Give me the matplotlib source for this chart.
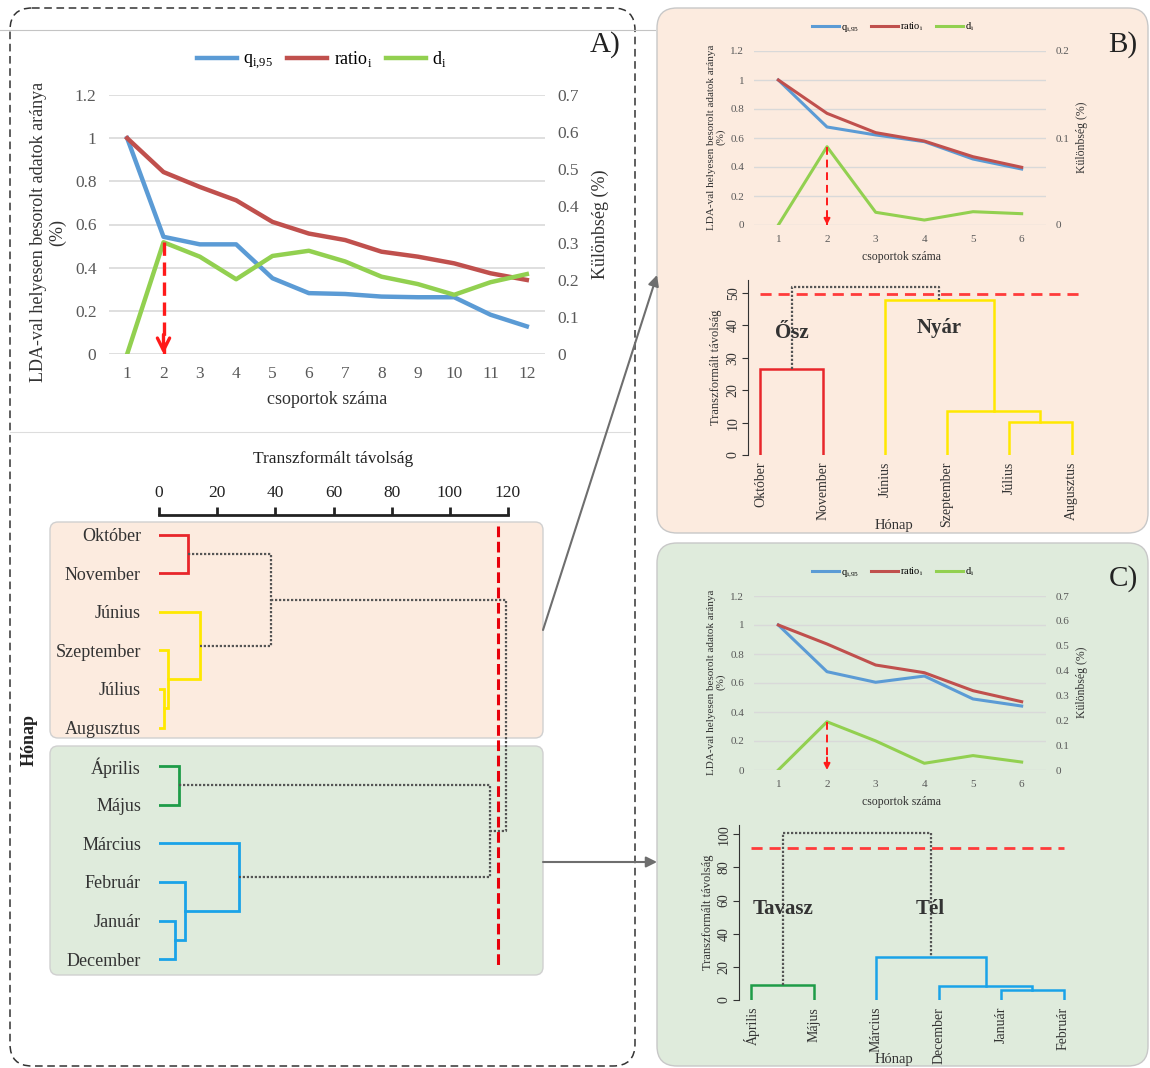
import matplotlib
matplotlib.use('Agg')
import matplotlib.pyplot as plt
from matplotlib.patches import FancyBboxPatch

plt.rcParams['font.family'] = ['Liberation Serif', 'DejaVu Serif']

W, H = 1150, 1068

# number of groups vs. classification ratios (panel A: all months)
groups_a = [1, 2, 3, 4, 5, 6, 7, 8, 9, 10, 11, 12]
q_a = [1.0, 0.543, 0.508, 0.508, 0.351, 0.282, 0.278, 0.266, 0.263, 0.263, 0.182, 0.128]
ratio_a = [1.0, 0.843, 0.774, 0.712, 0.612, 0.558, 0.528, 0.474, 0.451, 0.420, 0.374, 0.343]
d_a = [0.0, 0.302, 0.263, 0.202, 0.265, 0.279, 0.250, 0.209, 0.189, 0.160, 0.194, 0.216]

# panel B: summer/autumn months
groups_b = [1, 2, 3, 4, 5, 6]
q_b = [1.0, 0.676, 0.621, 0.575, 0.455, 0.386]
ratio_b = [1.0, 0.770, 0.637, 0.579, 0.471, 0.398]
d_b = [0.0, 0.090, 0.0146, 0.0057, 0.0153, 0.013]

# panel C: winter/spring months
groups_c = [1, 2, 3, 4, 5, 6]
q_c = [1.0, 0.678, 0.605, 0.648, 0.490, 0.441]
ratio_c = [1.0, 0.869, 0.724, 0.671, 0.547, 0.471]
d_c = [0.0, 0.194, 0.117, 0.027, 0.058, 0.032]

left_ticks = [0, 0.2, 0.4, 0.6, 0.8, 1.0, 1.2]
right_ticks_a = [0, 0.1, 0.2, 0.3, 0.4, 0.5, 0.6, 0.7]
right_ticks_b = [0, 0.1, 0.2]
right_ticks_c = [0, 0.1, 0.2, 0.3, 0.4, 0.5, 0.6, 0.7]

# dendrograms: leaves in plotting order, merges as (node, node, height, cluster)
months_a = ['Október', 'November', 'Június', 'Szeptember', 'Július', 'Augusztus',
            'Április', 'Május', 'Március', 'Február', 'Január', 'December']
links_a = [(0, 1, 10.1, 'osz'), (4, 5, 1.8, 'nyar'), (3, 13, 3.2, 'nyar'),
           (2, 14, 14.1, 'nyar'), (12, 15, 38.6, 'link'), (6, 7, 7.0, 'tavasz'),
           (10, 11, 5.6, 'tel'), (9, 18, 8.9, 'tel'), (8, 19, 27.5, 'tel'),
           (17, 20, 113.8, 'link'), (16, 21, 119.3, 'link')]
cut_a = 116.6

months_b = ['Október', 'November', 'Június', 'Szeptember', 'Július', 'Augusztus']
links_b = [(0, 1, 26.4, 'osz'), (4, 5, 10.3, 'nyar'), (3, 7, 13.7, 'nyar'),
           (2, 8, 47.9, 'nyar'), (6, 9, 51.9, 'link')]
cut_b = 49.6

months_c = ['Április', 'Május', 'Március', 'December', 'Január', 'Február']
links_c = [(0, 1, 9.3, 'tavasz'), (4, 5, 5.8, 'tel'), (3, 7, 8.5, 'tel'),
           (2, 8, 26.0, 'tel'), (6, 9, 101.0, 'link')]
cut_c = 92.0

BLUE, RED, GREEN = '#5b9bd5', '#c0504d', '#92d050'
cluster_colors = {'osz': '#e8262b', 'nyar': '#ffe800', 'tavasz': '#1e9c48', 'tel': '#1aa3e8'}
PEACH, MINT = '#fcebdf', '#dfebdc'

fig = plt.figure(figsize=(W / 100, H / 100), dpi=100)

# full-figure pixel canvas for boxes, connectors and free text
bg = fig.add_axes([0, 0, 1, 1])
bg.set_xlim(0, W)
bg.set_ylim(H, 0)
bg.axis('off')


def px_axes(x0, y0, x1, y1):
    ax = fig.add_axes([x0 / W, 1 - y1 / H, (x1 - x0) / W, (y1 - y0) / H])
    ax.set_facecolor('none')
    return ax


def box(x, y, w, h, fc, ec, r, **kw):
    bg.add_patch(FancyBboxPatch((x, y), w, h, boxstyle=f'round,pad=0,rounding_size={r}',
                                fc=fc, ec=ec, **kw))


box(10, 8, 625, 1058, 'none', '#333333', 22, lw=1.1, ls=(0, (5, 3)))
box(657, 8, 491, 525, PEACH, '#c8c8c8', 20, lw=1)
box(657, 543, 491, 523, MINT, '#c8c8c8', 20, lw=1)
box(50, 522, 493, 216, PEACH, '#d0d0d0', 8, lw=1)
box(50, 746, 493, 229, MINT, '#d0d0d0', 8, lw=1)
bg.plot([0, 655], [30, 30], color='#c4c4c4', lw=0.8)
bg.plot([10, 630], [432, 432], color='#dddddd', lw=0.8)

arrow_kw = dict(arrowstyle='-|>', color='#6e6e6e', lw=1.5, mutation_scale=16, shrinkA=0, shrinkB=0)
bg.annotate('', xy=(657, 275), xytext=(543, 630), arrowprops=arrow_kw)
bg.annotate('', xy=(657, 862), xytext=(543, 862), arrowprops=arrow_kw)

for label, x, y in [('A)', 605, 45), ('B)', 1123, 45), ('C)', 1123, 579)]:
    bg.text(x, y, label, fontsize=21, ha='center', va='center', color='#222222')


def line_panel(rect, groups, q, ratio, d, right_ticks, fs, lw, pad, big):
    ax = px_axes(*rect)
    ax.plot(groups, q, color=BLUE, lw=lw, label=r'q$_\mathregular{i{,}95}$')
    ax.plot(groups, ratio, color=RED, lw=lw, label=r'ratio$_\mathregular{i}$')
    ax2 = ax.twinx()
    ax2.set_facecolor('none')
    ax2.plot(groups, d, color=GREEN, lw=lw, label=r'd$_\mathregular{i}$')
    ax.set_xlim(0.5, len(groups) + 0.5)
    ax.set_ylim(0, left_ticks[-1])
    ax2.set_ylim(0, right_ticks[-1])
    ax.set_xticks(groups)
    ax.set_yticks(left_ticks)
    ax.set_yticklabels([f'{t:g}' for t in left_ticks])
    ax2.set_yticks(right_ticks)
    ax2.set_yticklabels([f'{t:g}' for t in right_ticks])
    ax.grid(axis='y', color='#d9d9d9', lw=1.2 if big else 1.0)
    ax.set_axisbelow(True)
    for a in (ax, ax2):
        for s in a.spines.values():
            s.set_visible(False)
        a.tick_params(length=0, labelsize=fs, colors='#595959', pad=pad)
    # red arrow marking the chosen number of groups
    dash_lw = 2.4 if big else 1.4
    ax2.plot([groups[1], groups[1]], [d[1], 0], color='#ff1a1a', lw=dash_lw,
             ls=(0, (4, 2)) if big else (0, (4, 2.5)))
    ax2.annotate('', xy=(groups[1], 0), xytext=(0, 14 if big else 9), textcoords='offset points',
                 arrowprops=dict(arrowstyle='->' if big else '-|>', color='#ff1a1a', lw=dash_lw,
                                 mutation_scale=22 if big else 9, shrinkA=0, shrinkB=0))
    handles = ax.get_lines()[:2] + ax2.get_lines()[:1]
    return ax, ax2, handles


# panel A line chart
ax, ax2, hs = line_panel((109, 95, 545, 354), groups_a, q_a, ratio_a, d_a, right_ticks_a,
                         12.5, 3.2, 9, True)
ax.legend(hs, [h.get_label() for h in hs], loc='center', bbox_to_anchor=(322 / W, 1 - 60 / H),
          bbox_transform=fig.transFigure, ncol=3, frameon=False, fontsize=13,
          handlelength=2.2, handletextpad=0.35, columnspacing=0.8)
bg.text(48, 232, 'LDA-val helyesen besorolt adatok aránya\n(%)', rotation=90, ha='center',
        va='center', fontsize=13, color='#333333', multialignment='center', linespacing=1.15)
bg.text(600, 224, 'Különbség (%)', rotation=90, ha='center', va='center', fontsize=13, color='#333333')
bg.text(327, 400, 'csoportok száma', ha='center', va='center', fontsize=13, color='#333333')

# panels B and C line charts
for rect, q, ratio, d, rt, dy in [((754, 51, 1046, 225), q_b, ratio_b, d_b, right_ticks_b, 0),
                                  ((754, 596, 1046, 770), q_c, ratio_c, d_c, right_ticks_c, 545)]:
    ax, ax2, hs = line_panel(rect, groups_b, q, ratio, d, rt, 8, 2.2, 7, False)
    ax.legend(hs, [h.get_label() for h in hs], loc='center', bbox_to_anchor=(893 / W, 1 - (27 + dy) / H),
              bbox_transform=fig.transFigure, ncol=3, frameon=False, fontsize=7.5,
              handlelength=2.6, handletextpad=0.2, columnspacing=1.2)
    bg.text(716, 137 + dy, 'LDA-val helyesen besorolt adatok aránya\n(%)', rotation=90, ha='center',
            va='center', fontsize=8, color='#333333', multialignment='center', linespacing=0.95)
    bg.text(1082, 137 + dy, 'Különbség (%)', rotation=90, ha='center', va='center', fontsize=8.5,
            color='#333333')
    bg.text(901, 257 + dy, 'csoportok száma', ha='center', va='center', fontsize=8.5, color='#333333')


def dendrogram(ax, links, n, start, horizontal=False, lw=1.8):
    pos = [start + i for i in range(n)]
    hgt = [0.0] * n
    for a, b, h, kind in links:
        xs = [pos[a], pos[a], pos[b], pos[b]]
        ys = [hgt[a], h, h, hgt[b]]
        if horizontal:
            xs, ys = ys, xs
        if kind == 'link':
            ax.plot(xs, ys, color='#555555', lw=1.6, ls=(0, (1, 0.8)))
        else:
            ax.plot(xs, ys, color=cluster_colors[kind], lw=lw, solid_joinstyle='miter')
        pos.append((pos[a] + pos[b]) / 2)
        hgt.append(h)


# panel A dendrogram (horizontal, ruler on top)
axd = px_axes(159, 515, 508, 975)
dendrogram(axd, links_a, len(months_a), 0, horizontal=True, lw=2.0)
axd.vlines(cut_a, -0.22, 11.2, colors='#e8000b', lw=2.2, linestyles=(0, (3.5, 1.5)))
axd.set_xlim(0, 120)
axd.set_ylim(11.41, -0.508)
axd.xaxis.tick_top()
axd.set_xticks([0, 20, 40, 60, 80, 100, 120])
axd.set_yticks(range(len(months_a)))
axd.set_yticklabels(months_a)
for s in ['left', 'right', 'bottom']:
    axd.spines[s].set_visible(False)
axd.spines['top'].set_linewidth(2)
axd.spines['top'].set_color('#222222')
axd.tick_params(axis='x', direction='out', length=6, width=2, labelsize=12.5, pad=4, colors='#222222')
axd.tick_params(axis='y', length=0, labelsize=13, pad=13, colors='#333333')
axd.xaxis.set_label_position('top')
axd.set_xlabel('Transzformált távolság', fontsize=12.5, labelpad=16, color='#222222')
bg.text(29, 740, 'Hónap', rotation=90, ha='center', va='center', fontsize=13,
        fontweight='bold', color='#222222')


def small_dendrogram(rect, months, links, cut, cut_end, ylim, yticks, names, xlabel_y):
    ax = px_axes(*rect)
    dendrogram(ax, links, len(months), 1)
    ax.hlines(cut, 1, cut_end, colors='#ff3b3b', lw=2, linestyles=(0, (4, 2.5)))
    ax.set_xlim(0.8, len(months) + 0.2)
    ax.set_ylim(0, ylim)
    ax.set_yticks(yticks)
    ax.set_xticks(range(1, len(months) + 1))
    ax.set_xticklabels(months, rotation=90, va='top', ha='center')
    for s in ['top', 'right', 'bottom']:
        ax.spines[s].set_visible(False)
    ax.spines['left'].set_color('#333333')
    ax.tick_params(axis='y', length=4, labelsize=10, pad=2, colors='#333333')
    ax.tick_params(axis='x', length=0, labelsize=10, pad=5, colors='#333333')
    plt.setp(ax.get_yticklabels(), rotation=90, va='center')
    ax.set_ylabel('Transzformált távolság', fontsize=9, color='#333333', labelpad=3)
    bg.text(894, xlabel_y, 'Hónap', ha='center', va='center', fontsize=10.5, color='#333333')
    for name, x, y in names:
        ax.text(x, y, name, fontsize=15, fontweight='bold', ha='center', va='center', color='#333333')
    return ax


small_dendrogram((748, 280, 1084, 455), months_b, links_b, cut_b, 6.17, 54, [0, 10, 20, 30, 40, 50],
                 [('Ősz', 1.5, 37.7), ('Nyár', 3.88, 39.3)], 525)
small_dendrogram((739, 825, 1076, 1000), months_c, links_c, cut_c, 6.0, 105.6, [0, 20, 40, 60, 80, 100],
                 [('Tavasz', 1.5, 55), ('Tél', 3.87, 55)], 1059)

fig.savefig('out.png', dpi=100)
